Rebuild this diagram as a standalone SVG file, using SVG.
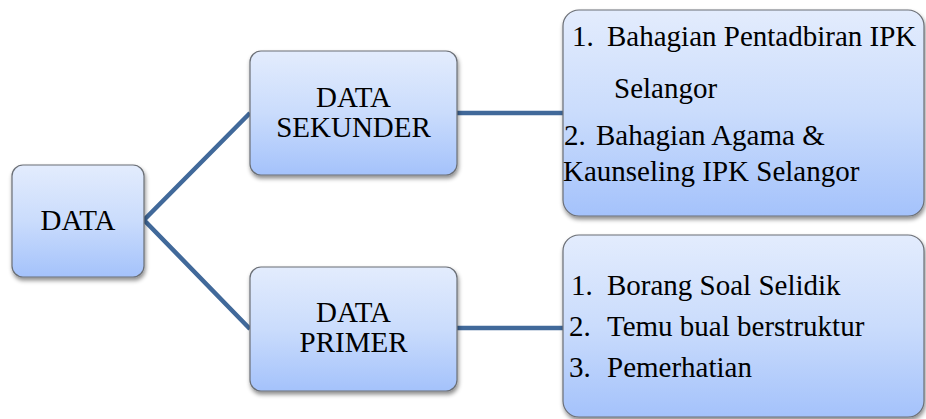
<svg xmlns="http://www.w3.org/2000/svg" width="926" height="419" viewBox="0 0 926 419">
<style>
.box{fill:url(#g);stroke:#6b6f76;stroke-width:1.2;filter:url(#sh)}
.t{font-family:"Liberation Serif","Times New Roman",serif;font-size:29px;fill:#000}
.c{text-anchor:middle}
.ln{stroke:#41699a;stroke-width:4.5;fill:none;stroke-linecap:butt}
</style>
<defs>
<linearGradient id="g" x1="0" y1="0" x2="0" y2="1">
<stop offset="0" stop-color="#e3ecfd"/>
<stop offset="0.5" stop-color="#cadcfc"/>
<stop offset="1" stop-color="#a4c2fb"/>
</linearGradient>
<filter id="sh" x="-10%" y="-10%" width="120%" height="130%">
<feDropShadow dx="1" dy="3" stdDeviation="2" flood-color="#000" flood-opacity="0.45"/>
</filter>
</defs>
<rect width="926" height="419" fill="#fff"/>
<g id="connectors">
<polyline class="ln" points="250,113 144,220 250,329"/>
<line class="ln" x1="457" y1="113" x2="563" y2="113"/>
<line class="ln" x1="457" y1="328" x2="563" y2="328"/>
</g>
<g id="data">
<rect class="box" x="12" y="165" width="132" height="112" rx="11"/>
<text class="t c" x="78" y="230">DATA</text>
</g>
<g id="sekunder">
<rect class="box" x="250" y="51" width="207" height="124" rx="11"/>
<text class="t c" x="353.5" y="107">DATA</text>
<text class="t c" x="353.5" y="137">SEKUNDER</text>
</g>
<g id="primer">
<rect class="box" x="250" y="267" width="207" height="124" rx="11"/>
<text class="t c" x="353.5" y="322">DATA</text>
<text class="t c" x="353.5" y="352">PRIMER</text>
</g>
<g id="sekunder-list">
<rect class="box" x="563" y="10" width="361" height="206" rx="16"/>
<text class="t" x="572" y="46">1.</text>
<text class="t" x="607" y="46">Bahagian Pentadbiran IPK</text>
<text class="t" x="614" y="98">Selangor</text>
<text class="t" x="564" y="145">2.</text>
<text class="t" x="596" y="145">Bahagian Agama &amp;</text>
<text class="t" x="563" y="181">Kaunseling IPK Selangor</text>
</g>
<g id="primer-list">
<rect class="box" x="563" y="235" width="361" height="182" rx="16"/>
<text class="t" x="571" y="295">1.</text>
<text class="t" x="607" y="295">Borang Soal Selidik</text>
<text class="t" x="569" y="336">2.</text>
<text class="t" x="607" y="336">Temu bual berstruktur</text>
<text class="t" x="569" y="377">3.</text>
<text class="t" x="607" y="377">Pemerhatian</text>
</g>
</svg>
